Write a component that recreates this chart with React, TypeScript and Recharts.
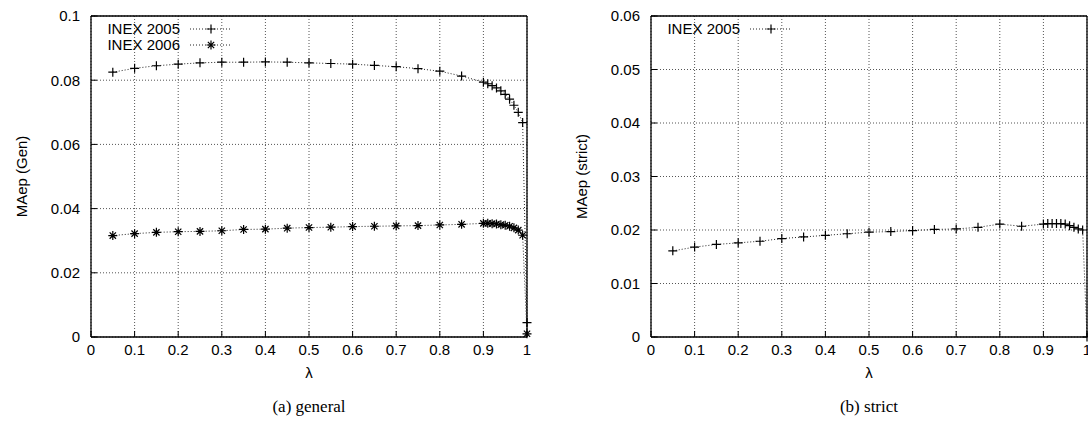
import React from 'react';
import { LineChart, Line, XAxis, YAxis, CartesianGrid } from 'recharts';

// lambda values shared by all series
const lambdas = [
  0.05, 0.1, 0.15, 0.2, 0.25, 0.3, 0.35, 0.4, 0.45, 0.5, 0.55, 0.6, 0.65, 0.7, 0.75, 0.8, 0.85,
  0.9, 0.91, 0.92, 0.93, 0.94, 0.95, 0.96, 0.97, 0.98, 0.99, 1,
];

const inex2005Gen = [
  0.0825, 0.0837, 0.0845, 0.085, 0.0854, 0.0856, 0.0856, 0.0857, 0.0856, 0.0854, 0.0852, 0.085, 0.0846,
  0.0842, 0.0836, 0.0828, 0.0813,
  0.0794, 0.0789, 0.0783, 0.0776, 0.0767, 0.0756, 0.0741, 0.0722, 0.07, 0.0668, 0.0045,
];

const inex2006Gen = [
  0.0316, 0.0322, 0.0326, 0.0328, 0.0329, 0.0331, 0.0335, 0.0336, 0.0339, 0.0341, 0.0342, 0.0344, 0.0345,
  0.0346, 0.0347, 0.0349, 0.0351,
  0.0354, 0.0354, 0.0353, 0.0352, 0.035, 0.0348, 0.0345, 0.034, 0.0333, 0.0317, 0.001,
];

const inex2005Strict = [
  0.0161, 0.0168, 0.0173, 0.0176, 0.0179, 0.0184, 0.0187, 0.019, 0.0193, 0.0196, 0.0197, 0.0199, 0.0201,
  0.0202, 0.0205, 0.0211, 0.0207,
  0.0211, 0.0212, 0.0212, 0.0212, 0.0212, 0.0211, 0.0208, 0.0205, 0.0202, 0.02, 0,
];

const xTicks = [0, 0.1, 0.2, 0.3, 0.4, 0.5, 0.6, 0.7, 0.8, 0.9, 1];
const genTicks = [0, 0.02, 0.04, 0.06, 0.08, 0.1];
const strictTicks = [0, 0.01, 0.02, 0.03, 0.04, 0.05, 0.06];

const FONT = '"Liberation Sans", Arial, Helvetica, sans-serif';
const SERIF = '"Liberation Serif", "Times New Roman", serif';

const PlusDot = (p: any) => {
  const { cx, cy, index } = p;
  if (cx == null || cy == null) return <g key={index} />;
  return (
    <path key={index} d={`M${cx - 4.5},${cy}h9M${cx},${cy - 4.5}v9`} stroke="#000" strokeWidth={1.2} fill="none" />
  );
};

const StarDot = (p: any) => {
  const { cx, cy, index } = p;
  if (cx == null || cy == null) return <g key={index} />;
  const r = 4.5;
  const d = r * 0.7;
  return (
    <path
      key={index}
      d={`M${cx - r},${cy}h${2 * r}M${cx},${cy - r}v${2 * r}M${cx - d},${cy - d}l${2 * d},${2 * d}M${cx - d},${cy + d}l${2 * d},${-2 * d}`}
      stroke="#000"
      strokeWidth={1.2}
      fill="none"
    />
  );
};

type Series = { key: string; name: string; dot: (p: any) => React.ReactElement };

function LegendSample({ dot }: { dot: (p: any) => React.ReactElement }) {
  return (
    <svg width={44} height={14} style={{ marginLeft: 9, display: 'block' }}>
      <line x1={1} y1={7} x2={43} y2={7} stroke="#222" strokeDasharray="1 2" />
      {dot({ cx: 22, cy: 7, index: 0 })}
    </svg>
  );
}

function Panel({
  left, rows, series, yTicks, yMax, yLabel, caption,
}: {
  left: number; rows: any[]; series: Series[]; yTicks: number[]; yMax: number; yLabel: string; caption: string;
}) {
  const tickStyle = { fill: '#000', fontSize: 15, fontFamily: FONT };
  return (
    <div style={{ position: 'absolute', left, top: 0, width: 545, height: 425 }}>
      <LineChart width={545} height={390} data={rows} margin={{ top: 15, right: 17, left: 0, bottom: 23 }}>
        <CartesianGrid stroke="#555" strokeDasharray="1 2" />
        <XAxis
          dataKey="x"
          type="number"
          domain={[0, 1]}
          ticks={xTicks}
          interval={0}
          height={30}
          tickSize={-6}
          tickMargin={13}
          tick={tickStyle}
          axisLine={{ stroke: '#000', strokeWidth: 1.3 }}
          tickLine={{ stroke: '#000' }}
          label={{ value: 'λ', position: 'bottom', offset: 0, fill: '#000', fontSize: 15, fontFamily: FONT }}
        />
        <XAxis
          xAxisId="top"
          orientation="top"
          dataKey="x"
          type="number"
          domain={[0, 1]}
          ticks={xTicks}
          interval={0}
          height={1}
          tickSize={-6}
          tick={false}
          axisLine={{ stroke: '#000', strokeWidth: 1.3 }}
          tickLine={{ stroke: '#000' }}
        />
        <YAxis
          type="number"
          domain={[0, yMax]}
          ticks={yTicks}
          interval={0}
          width={91}
          tickSize={-6}
          tickMargin={17}
          tick={tickStyle}
          axisLine={{ stroke: '#000', strokeWidth: 1.3 }}
          tickLine={{ stroke: '#000' }}
          label={{
            value: yLabel,
            angle: -90,
            position: 'insideLeft',
            offset: 22,
            fill: '#000',
            fontSize: 15,
            fontFamily: FONT,
            style: { textAnchor: 'middle' },
          }}
        />
        <YAxis
          yAxisId="right"
          orientation="right"
          type="number"
          domain={[0, yMax]}
          ticks={yTicks}
          interval={0}
          width={1}
          tickSize={-6}
          tick={false}
          axisLine={{ stroke: '#000', strokeWidth: 1.3 }}
          tickLine={{ stroke: '#000' }}
        />
        {series.map((s) => (
          <Line
            key={s.key}
            dataKey={s.key}
            name={s.name}
            type="linear"
            stroke="#222"
            strokeWidth={1}
            strokeDasharray="1 2"
            dot={s.dot}
            activeDot={false}
            isAnimationActive={false}
          />
        ))}
      </LineChart>
      <div style={{ position: 'absolute', left: 100, top: 21, fontFamily: FONT, fontSize: 15, color: '#000' }}>
        {series.map((s) => (
          <div key={s.key} style={{ display: 'flex', alignItems: 'center', height: 16 }}>
            <span style={{ width: 80, textAlign: 'right', lineHeight: '16px' }}>{s.name}</span>
            <LegendSample dot={s.dot} />
          </div>
        ))}
      </div>
      <div
        style={{
          position: 'absolute', left: 209, top: 397, width: 200, textAlign: 'center',
          fontFamily: SERIF, fontSize: 17, lineHeight: '20px', color: '#000',
        }}
      >
        {caption}
      </div>
    </div>
  );
}

export default function App() {
  const genRows = lambdas.map((x, i) => ({ x, gen2005: inex2005Gen[i], gen2006: inex2006Gen[i] }));
  const strictRows = lambdas.map((x, i) => ({ x, strict2005: inex2005Strict[i] }));
  return (
    <div style={{ position: 'absolute', left: 0, top: 0, width: 1088, height: 425, overflow: 'hidden', background: '#fff' }}>
      <Panel
        left={0}
        rows={genRows}
        series={[
          { key: 'gen2005', name: 'INEX 2005', dot: PlusDot },
          { key: 'gen2006', name: 'INEX 2006', dot: StarDot },
        ]}
        yTicks={genTicks}
        yMax={0.1}
        yLabel="MAep (Gen)"
        caption="(a)  general"
      />
      <Panel
        left={560}
        rows={strictRows}
        series={[{ key: 'strict2005', name: 'INEX 2005', dot: PlusDot }]}
        yTicks={strictTicks}
        yMax={0.06}
        yLabel="MAep (strict)"
        caption="(b)  strict"
      />
    </div>
  );
}
